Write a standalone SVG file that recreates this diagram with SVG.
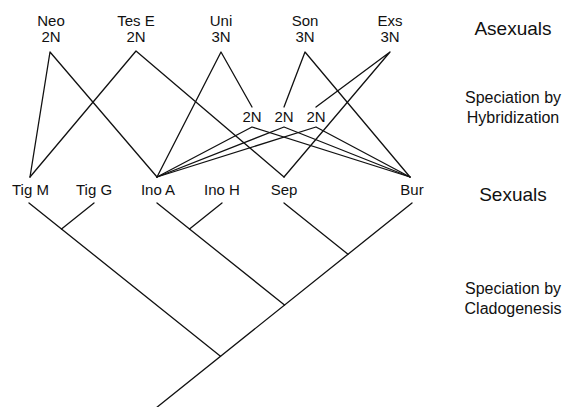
<svg xmlns="http://www.w3.org/2000/svg" width="566" height="407" viewBox="0 0 566 407">
<style>
text{font-family:"Liberation Sans",Arial,sans-serif;fill:#111;text-anchor:middle}
.t{font-size:15px}
.h{font-size:19px}
.s{font-size:16px}
.c line,.c polyline{stroke:#111;stroke-width:1.3;fill:none;stroke-linecap:round;stroke-linejoin:round}
</style>
<rect width="566" height="407" fill="#fff"/>
<g id="neo"><text class="t" x="51" y="25.5">Neo</text><text class="t" x="51" y="41.5">2N</text></g>
<g id="tese"><text class="t" x="136" y="25.5">Tes E</text><text class="t" x="136" y="41.5">2N</text></g>
<g id="uni"><text class="t" x="221" y="25.5">Uni</text><text class="t" x="221" y="41.5">3N</text></g>
<g id="son"><text class="t" x="305" y="25.5">Son</text><text class="t" x="305" y="41.5">3N</text></g>
<g id="exs"><text class="t" x="390" y="25.5">Exs</text><text class="t" x="390" y="41.5">3N</text></g>
<g id="h1"><text class="t" x="252" y="121.5">2N</text></g>
<g id="h2"><text class="t" x="284" y="121.5">2N</text></g>
<g id="h3"><text class="t" x="316" y="121.5">2N</text></g>
<g id="tigm"><text class="t" x="30.5" y="195">Tig M</text></g>
<g id="tigg"><text class="t" x="94" y="195">Tig G</text></g>
<g id="inoa"><text class="t" x="158" y="195">Ino A</text></g>
<g id="inoh"><text class="t" x="222" y="195">Ino H</text></g>
<g id="sep"><text class="t" x="284" y="195">Sep</text></g>
<g id="bur"><text class="t" x="412" y="195">Bur</text></g>
<g id="labels">
<text class="h" x="513" y="35">Asexuals</text>
<text class="s" x="513" y="103">Speciation by</text>
<text class="s" x="513" y="123">Hybridization</text>
<text class="h" x="513" y="201">Sexuals</text>
<text class="s" x="513" y="294">Speciation by</text>
<text class="s" x="513" y="314">Cladogenesis</text>
</g>
<g id="connectors" class="c">
<polyline points="30,177 50,52 157,177"/>
<polyline points="30,177 136,51 284,177"/>
<polyline points="157,177 221,52 252,107"/>
<polyline points="284,107 305,52 410,177"/>
<polyline points="316,107 390,52 284,177"/>
<polyline points="157,177 252,127 410,177"/>
<polyline points="157,177 284,127 410,177"/>
<polyline points="157,177 316,127 410,177"/>
<line x1="29" y1="203" x2="220.5" y2="356.2"/>
<line x1="94" y1="203" x2="61.5" y2="229"/>
<line x1="157" y1="203" x2="284.5" y2="305"/>
<line x1="222" y1="203" x2="189.5" y2="229"/>
<line x1="284" y1="203" x2="348" y2="254.2"/>
<line x1="412" y1="203" x2="156" y2="408"/>
</g>
</svg>
